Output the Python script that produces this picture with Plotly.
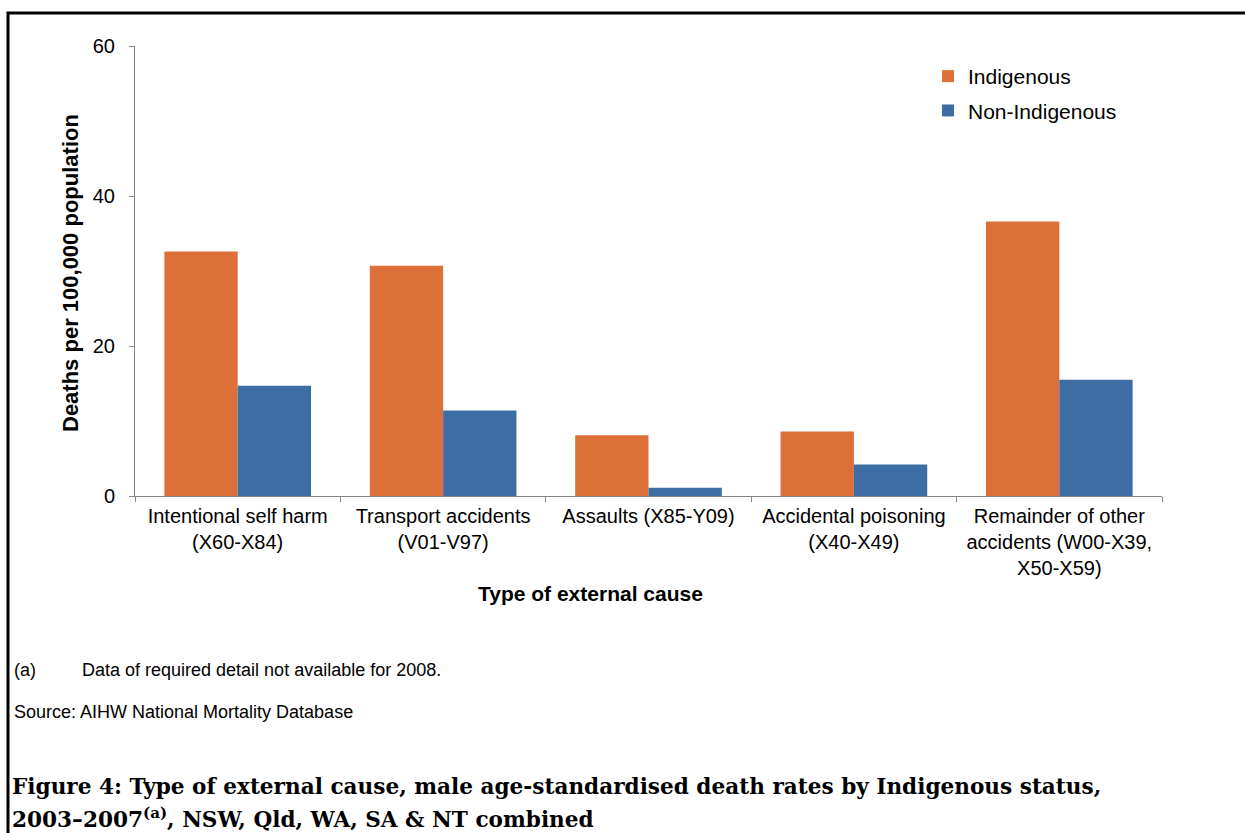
import plotly.graph_objects as go

# Male age-standardised death rates (deaths per 100,000), 2003-2007
causes = [
    "Intentional self harm<br>(X60-X84)",
    "Transport accidents<br>(V01-V97)",
    "Assaults (X85-Y09)",
    "Accidental poisoning<br>(X40-X49)",
    "Remainder of other<br>accidents (W00-X39,<br>X50-X59)",
]
indigenous = [32.6, 30.7, 8.1, 8.6, 36.6]
non_indigenous = [14.7, 11.4, 1.1, 4.2, 15.5]

y_ticks = [0, 20, 40, 60]

ORANGE = "#DD7038"
BLUE = "#3D6EA3"
AXIS_GREY = "#868686"
SANS = "Arial, Liberation Sans, sans-serif"
SERIF = "Palatino Linotype, Book Antiqua, Palatino, DejaVu Serif, serif"

W, H = 1245, 833
M_L, M_R, M_T, M_B = 135, 83, 46, 337
PW, PH = W - M_L - M_R, H - M_T - M_B


def px_x(px):
    """Pixel column -> paper x."""
    return (px - M_L) / PW


def px_y(py):
    """Pixel row -> paper y."""
    return (H - M_B - py) / PH


fig = go.Figure()
fig.add_trace(go.Bar(
    name="Indigenous", x=causes, y=indigenous,
    marker=dict(color=ORANGE, line=dict(width=0)),
    legendgroup="a",
))
fig.add_trace(go.Bar(
    name="Non-Indigenous", x=causes, y=non_indigenous,
    marker=dict(color=BLUE, line=dict(width=0)),
    legendgroup="b",
))

annotations = [
    dict(text="<b>Type of external cause</b>", x=px_x(590), y=px_y(593),
         xanchor="center", yanchor="middle", font=dict(size=21)),
    dict(text="<b>Deaths per 100,000 population</b>", x=px_x(70), y=px_y(273),
         xanchor="center", yanchor="middle", textangle=-90, font=dict(size=22)),
    dict(text="(a)", x=px_x(12), y=px_y(670), xanchor="left", yanchor="middle",
         font=dict(size=18)),
    dict(text="Data of required detail not available for 2008.", x=px_x(80),
         y=px_y(670), xanchor="left", yanchor="middle", font=dict(size=18)),
    dict(text="Source: AIHW National Mortality Database", x=px_x(12),
         y=px_y(712), xanchor="left", yanchor="middle", font=dict(size=18)),
    dict(text="<b>Figure 4: Type of external cause, male age-standardised death rates by Indigenous status,</b>",
         x=px_x(10), y=px_y(786), xanchor="left", yanchor="middle",
         font=dict(size=21.6, family=SERIF)),
    dict(text="<b>2003–2007<sup>(a)</sup>, NSW, Qld, WA, SA & NT combined</b>",
         x=px_x(10), y=px_y(818), xanchor="left", yanchor="middle",
         font=dict(size=21.6, family=SERIF)),
]
for a in annotations:
    a.update(xref="paper", yref="paper", showarrow=False)

fig.update_layout(
    width=W, height=H,
    margin=dict(l=M_L, r=M_R, t=M_T, b=M_B),
    paper_bgcolor="white", plot_bgcolor="white",
    font=dict(family=SANS, color="black", size=20),
    barmode="group", bargap=0.286, bargroupgap=0,
    showlegend=True,
    legend=dict(
        x=px_x(928), y=px_y(56), xanchor="left", yanchor="top",
        font=dict(size=21), traceorder="grouped", tracegroupgap=4,
        itemwidth=30, bgcolor="rgba(0,0,0,0)",
    ),
    xaxis=dict(
        showline=True, linecolor=AXIS_GREY, linewidth=1,
        ticks="outside", tickson="boundaries", ticklen=5, tickcolor=AXIS_GREY,
        showgrid=False, tickfont=dict(size=20), ticklabelstandoff=2,
    ),
    yaxis=dict(
        range=[0, 60], tickvals=y_ticks, showline=True, linecolor=AXIS_GREY,
        linewidth=1, ticks="outside", ticklen=5, tickcolor=AXIS_GREY,
        showgrid=False, zeroline=False, tickfont=dict(size=20),
        ticklabelstandoff=10,
    ),
    annotations=annotations,
    shapes=[dict(
        type="rect", xref="paper", yref="paper",
        x0=px_x(8), x1=px_x(1260), y0=px_y(850), y1=px_y(13),
        line=dict(color="black", width=3), fillcolor="rgba(0,0,0,0)",
        layer="above",
    )],
)

fig.write_html("out.html")
